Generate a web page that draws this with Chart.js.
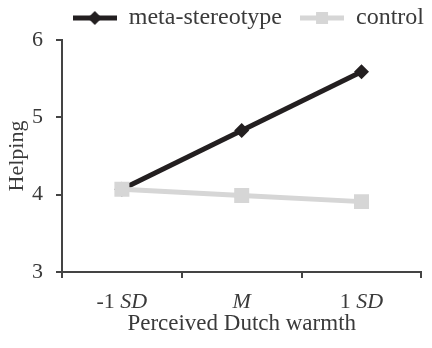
<!DOCTYPE html>
<html>
<head>
<meta charset="utf-8">
<script src="https://cdn.jsdelivr.net/npm/chart.js@4"></script>
<style>
  html, body { margin: 0; padding: 0; background: #fff; }
  #wrap { width: 432px; height: 348px; }
</style>
</head>
<body>
<div id="wrap"><canvas id="helpChart" width="432" height="348"></canvas></div>
<script>
const categories = ["-1 SD", "M", "1 SD"];
// label parts: [normal, italic]
const tickParts = [["-1 ", "SD"], ["", "M"], ["1 ", "SD"]];
const metaValues = [4.07, 4.83, 5.59];
const controlValues = [4.07, 3.99, 3.91];
const yTicks = [3, 4, 5, 6];

const FONT = "'Liberation Serif', 'Times New Roman', serif";
const DARK = "#231f20";
const LIGHT = "#d6d6d6";
const TEXT = "#3a3a3a";

Chart.defaults.font.family = FONT;
Chart.defaults.color = TEXT;

// legend symbol: line with marker in the middle
function legendSymbol(color, shape) {
    const c = document.createElement("canvas");
    c.width = 44; c.height = 16;
    const g = c.getContext("2d");
    g.strokeStyle = color;
    g.lineWidth = 5;
    g.beginPath(); g.moveTo(0, 8); g.lineTo(44, 8); g.stroke();
    g.fillStyle = color;
    if (shape === "diamond") {
        g.beginPath(); g.moveTo(22, 1); g.lineTo(29, 8); g.lineTo(22, 15); g.lineTo(15, 8); g.closePath(); g.fill();
    } else {
        g.fillRect(16, 2, 12, 12);
    }
    return c;
}

// push the legend a bit to the right edge
const legendShift = {
    id: "legendShift",
    afterLayout(chart) {
        chart.legend.left += 13;
        chart.legend.right += 13;
    }
};

const italicTicks = {
    id: "italicTicks",
    afterDraw(chart) {
        const scale = chart.scales.x;
        const g = chart.ctx;
        const size = 22;
        g.save();
        g.fillStyle = TEXT;
        g.textBaseline = "middle";
        g.textAlign = "left";
        const y = scale.top + 30;
        tickParts.forEach((p, i) => {
            const x = scale.getPixelForValue(i);
            g.font = size + "px " + FONT;
            const w1 = g.measureText(p[0]).width;
            g.font = "italic " + size + "px " + FONT;
            const w2 = g.measureText(p[1]).width;
            const start = x - (w1 + w2) / 2;
            g.font = size + "px " + FONT;
            g.fillText(p[0], start, y);
            g.font = "italic " + size + "px " + FONT;
            g.fillText(p[1], start + w1, y);
        });
        g.restore();
    }
};

new Chart(document.getElementById("helpChart"), {
    type: "line",
    data: {
        labels: categories,
        datasets: [
            {
                label: "meta-stereotype",
                data: metaValues,
                borderColor: DARK,
                backgroundColor: DARK,
                borderWidth: 5,
                pointStyle: "rectRot",
                pointRadius: 7.5,
                pointHoverRadius: 7.5,
                pointBorderWidth: 0,
                order: 2
            },
            {
                label: "control",
                data: controlValues,
                borderColor: LIGHT,
                backgroundColor: LIGHT,
                borderWidth: 5,
                pointStyle: "rect",
                pointRadius: 10.6,
                pointHoverRadius: 10.6,
                pointBorderWidth: 0,
                order: 1
            }
        ]
    },
    options: {
        responsive: false,
        animation: false,
        layout: { padding: { left: 0, right: 3, top: -12, bottom: 10 } },
        plugins: {
            legend: {
                display: true,
                position: "top",
                align: "end",
                labels: {
                    usePointStyle: true,
                    pointStyleWidth: 44,
                    color: TEXT,
                    font: { family: FONT, size: 24 },
                    padding: 18,
                    generateLabels(chart) {
                        return [
                            { text: "meta-stereotype", pointStyle: legendSymbol(DARK, "diamond"), datasetIndex: 0, lineWidth: 0, fontColor: TEXT },
                            { text: "control", pointStyle: legendSymbol(LIGHT, "rect"), datasetIndex: 1, lineWidth: 0, fontColor: TEXT }
                        ];
                    }
                }
            },
            tooltip: { enabled: false }
        },
        scales: {
            x: {
                offset: true,
                afterFit(scale) { scale.height = 66; },
                grid: { display: true, drawOnChartArea: false, offset: true, color: "#444", tickLength: 6, lineWidth: 2 },
                border: { display: true, color: "#444", width: 2 },
                ticks: { color: "rgba(0,0,0,0)", font: { family: FONT, size: 22 }, padding: 6 },
                title: { display: true, text: "Perceived Dutch warmth", color: TEXT, font: { family: FONT, size: 23 }, padding: { top: 0, bottom: 0 } }
            },
            y: {
                min: 3,
                max: 6,
                afterFit(scale) { scale.width = 62; },
                afterBuildTicks(scale) { scale.ticks = yTicks.map(v => ({ value: v })); },
                grid: { display: true, drawOnChartArea: false, color: "#444", tickLength: 6, lineWidth: 2 },
                border: { display: true, color: "#444", width: 2 },
                ticks: { color: TEXT, font: { family: FONT, size: 22 }, padding: 13 },
                title: { display: true, text: "Helping", color: TEXT, font: { family: FONT, size: 22 }, padding: { top: 4, bottom: 0 } }
            }
        }
    },
    plugins: [italicTicks, legendShift]
});
</script>
</body>
</html>
